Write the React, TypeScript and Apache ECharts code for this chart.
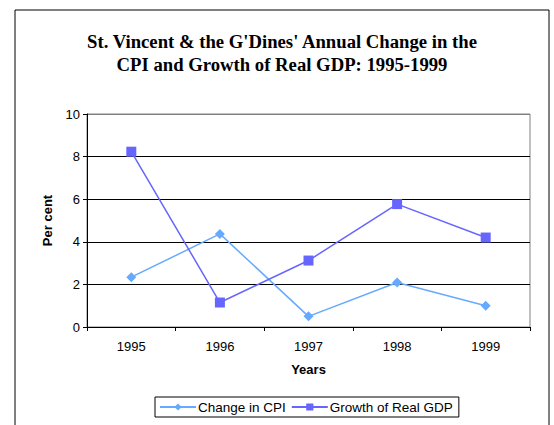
import React, { useEffect, useRef } from "react";
import * as echarts from "echarts";

const years = ["1995", "1996", "1997", "1998", "1999"];
const cpiChange = [2.34, 4.37, 0.5, 2.09, 1.0];
const realGdpGrowth = [8.23, 1.15, 3.12, 5.77, 4.2];
const titleLines = [
  "St. Vincent & the G'Dines' Annual Change in the",
  "CPI and Growth of Real GDP: 1995-1999",
];

const SANS = "'Liberation Sans', Arial, sans-serif";
const SERIF = "'Liberation Serif', 'Times New Roman', serif";

export default function App() {
  const ref = useRef<HTMLDivElement>(null);
  useEffect(() => {
    document.body.style.margin = "0";
    if (!ref.current) return;
    const chart = echarts.init(ref.current, undefined, { renderer: "svg" });
    chart.setOption({
      animation: false,
      backgroundColor: "#ffffff",
      title: {
        text: titleLines.join("\n"),
        left: 282,
        textAlign: "center",
        top: 30,
        padding: 0,
        textStyle: {
          fontFamily: SERIF,
          fontWeight: "bold",
          fontSize: 18.7,
          lineHeight: 23,
          color: "#000",
        },
      },
      graphic: [
        {
          type: "rect",
          shape: { x: 15, y: 10, width: 534, height: 430 },
          style: { fill: "none", stroke: "#000", lineWidth: 1 },
          silent: true,
          z: 0,
        },
      ],
      grid: {
        left: 87,
        top: 114,
        width: 443,
        height: 213,
        show: true,
        borderColor: "#808080",
        borderWidth: 1,
        containLabel: false,
      },
      legend: {
        left: 155,
        top: 397,
        padding: [3, 6, 3, 4],
        itemGap: 5,
        itemWidth: 36,
        itemHeight: 9,
        borderColor: "#000",
        borderWidth: 1,
        textStyle: { fontFamily: SANS, fontSize: 13.5, color: "#000", padding: [0, 0, 0, -3] },
        data: ["Change in CPI", "Growth of Real GDP"],
      },
      xAxis: {
        type: "category",
        data: years,
        boundaryGap: true,
        name: "Years",
        nameLocation: "middle",
        nameGap: 36,
        nameTextStyle: { fontFamily: SANS, fontSize: 13, fontWeight: "bold", color: "#000" },
        axisLine: { lineStyle: { color: "#000", width: 1 } },
        axisTick: { show: true, interval: 0, length: 4, lineStyle: { color: "#000" } },
        axisLabel: { fontFamily: SANS, fontSize: 13, color: "#000", margin: 13 },
        splitLine: { show: false },
      },
      yAxis: {
        type: "value",
        min: 0,
        max: 10,
        interval: 2,
        name: "Per cent",
        nameLocation: "middle",
        nameGap: 33,
        nameTextStyle: { fontFamily: SANS, fontSize: 13, fontWeight: "bold", color: "#000" },
        axisLine: { show: true, lineStyle: { color: "#000", width: 1 } },
        axisTick: { show: true, length: 4, lineStyle: { color: "#000" } },
        axisLabel: { fontFamily: SANS, fontSize: 13, color: "#000", margin: 7 },
        splitLine: {
          show: true,
          lineStyle: {
            color: ["#000", "#000", "#000", "#000", "#000", "#808080"],
            width: 1,
          },
        },
      },
      series: [
        {
          name: "Change in CPI",
          type: "line",
          data: cpiChange,
          symbol: "diamond",
          symbolSize: 10,
          itemStyle: { color: "#66aaff" },
          lineStyle: { color: "#66aaff", width: 1.5 },
          z: 3,
        },
        {
          name: "Growth of Real GDP",
          type: "line",
          data: realGdpGrowth,
          symbol: "rect",
          symbolSize: 10,
          itemStyle: { color: "#6666ff" },
          lineStyle: { color: "#6666ff", width: 1.5 },
          z: 4,
        },
      ],
    });
    return () => chart.dispose();
  }, []);
  return <div ref={ref} style={{ width: 554, height: 425 }} />;
}
